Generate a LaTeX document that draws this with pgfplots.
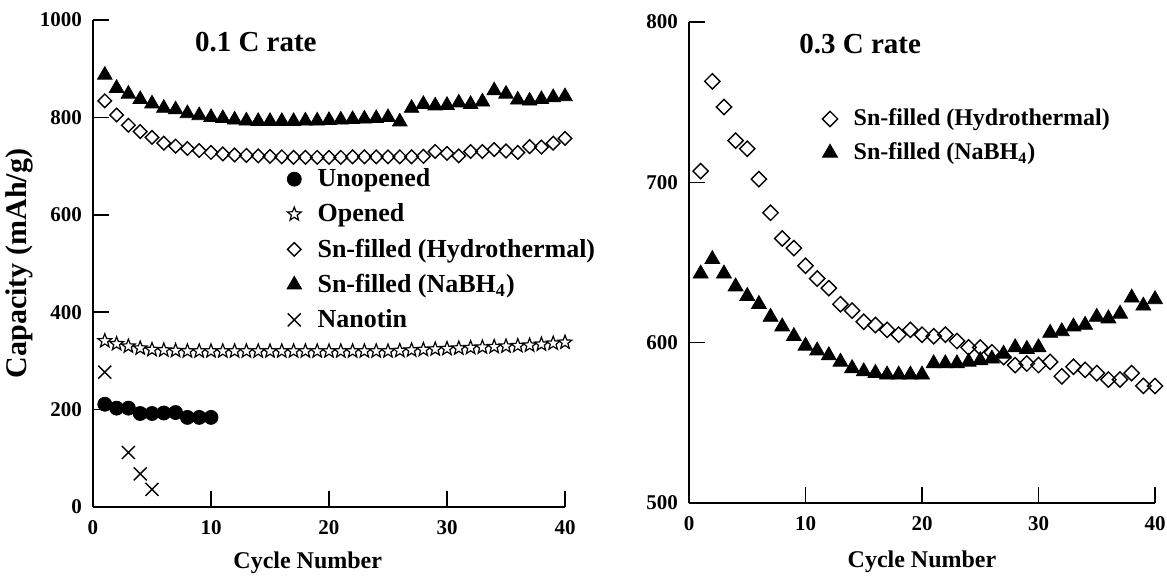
\documentclass[border=0pt]{standalone}
\usepackage{fontspec}
\setmainfont{Liberation Serif}
\usepackage{pgfplots}
\pgfplotsset{compat=1.18}

% outlined five-point star
\pgfdeclareplotmark{ostar}{%
  \pgfpathmoveto{\pgfqpointpolar{90}{\pgfplotmarksize}}%
  \pgfpathlineto{\pgfqpointpolar{126}{0.42\pgfplotmarksize}}%
  \pgfpathlineto{\pgfqpointpolar{162}{\pgfplotmarksize}}%
  \pgfpathlineto{\pgfqpointpolar{198}{0.42\pgfplotmarksize}}%
  \pgfpathlineto{\pgfqpointpolar{234}{\pgfplotmarksize}}%
  \pgfpathlineto{\pgfqpointpolar{270}{0.42\pgfplotmarksize}}%
  \pgfpathlineto{\pgfqpointpolar{306}{\pgfplotmarksize}}%
  \pgfpathlineto{\pgfqpointpolar{342}{0.42\pgfplotmarksize}}%
  \pgfpathlineto{\pgfqpointpolar{18}{\pgfplotmarksize}}%
  \pgfpathlineto{\pgfqpointpolar{54}{0.42\pgfplotmarksize}}%
  \pgfpathclose
  \pgfusepathqfillstroke
}

\pgfplotsset{
  cyc/.style={
    scale only axis,
    axis lines=left,
    axis line style={-, line width=1pt},
    tick align=inside,
    major tick length=8pt,
    tick style={line width=0.8pt, black},
    xmin=0, xmax=40, xtick={0,10,...,40},
    clip=false,
    ticklabel style={font=\bfseries\fontsize{10.5}{12}\selectfont},
    xticklabel style={yshift=-3pt},
    yticklabel style={xshift=-2pt},
    /pgf/number format/assume math mode=true,
    /pgf/number format/1000 sep={},
    xlabel={Cycle Number},
    xlabel style={font=\bfseries\fontsize{12}{14}\selectfont, anchor=center},
    legend style={draw=none, fill=none, anchor=north west, row sep=3pt,
      column sep=6pt, cells={anchor=west}},
  },
  unop/.style={only marks, mark=*, mark size=3.5pt, black},
  open/.style={only marks, mark=ostar, mark size=3.6pt, black, mark options={fill=white, line width=0.6pt}},
  hydro/.style={only marks, mark=square, mark size=2.4pt, black, mark options={rotate=45, fill=white, line width=0.7pt}},
  nabh/.style={only marks, mark=triangle*, mark size=4.2pt, black},
  nano/.style={only marks, mark=x, mark size=4.6pt, black, mark options={line width=0.7pt}},
}

\begin{document}
\begin{tikzpicture}
\useasboundingbox (0,0) rectangle (583.5pt,289.5pt);

% 0.1 C
\begin{axis}[cyc,
  at={(46.5pt,36pt)}, anchor=south west,
  width=236pt, height=243.5pt,
  ymin=0, ymax=1000, ytick={0,200,...,1000},
  ylabel={Capacity (mAh/g)},
  ylabel style={font=\bfseries\fontsize{15}{17}\selectfont, at={(axis description cs:-0.155,0.5)}, anchor=center},
  xlabel style={at={(axis description cs:0.455,-0.115)}},
  legend style={at={(axis cs:15.9,712)}, font=\bfseries\fontsize{13}{15}\selectfont},
]
\addplot[unop] coordinates {(1,211) (2,203) (3,203) (4,192) (5,192) (6,193) (7,194) (8,184) (9,184) (10,184)};
\addplot[open] coordinates {(1,341) (2,335) (3,330) (4,326) (5,323) (6,322) (7,321) (8,320) (9,320) (10,320)
 (11,320) (12,320) (13,320) (14,320) (15,320) (16,320) (17,320) (18,320) (19,320) (20,320)
 (21,320) (22,320) (23,320) (24,320) (25,320) (26,321) (27,322) (28,323) (29,324) (30,325)
 (31,326) (32,327) (33,328) (34,329) (35,330) (36,331) (37,332) (38,334) (39,336) (40,338)};
\addplot[hydro] coordinates {(1,834) (2,805) (3,784) (4,771) (5,759) (6,747) (7,741) (8,736) (9,732) (10,728)
 (11,725) (12,723) (13,722) (14,721) (15,720) (16,719) (17,718) (18,718) (19,718) (20,718)
 (21,718) (22,719) (23,719) (24,719) (25,719) (26,719) (27,719) (28,720) (29,730) (30,726)
 (31,721) (32,730) (33,730) (34,734) (35,731) (36,728) (37,740) (38,739) (39,747) (40,757)};
\addplot[nabh] coordinates {(1,887) (2,860) (3,848) (4,837) (5,828) (6,819) (7,816) (8,808) (9,804) (10,800)
 (11,798) (12,795) (13,793) (14,792) (15,792) (16,792) (17,792) (18,793) (19,793) (20,794)
 (21,795) (22,796) (23,797) (24,798) (25,800) (26,791) (27,819) (28,827) (29,824) (30,825)
 (31,830) (32,827) (33,832) (34,855) (35,848) (36,836) (37,834) (38,837) (39,841) (40,843)};
\addplot[nano] coordinates {(1,277) (3,112) (4,68) (5,36)};
\legend{Unopened, Opened, Sn-filled (Hydrothermal), Sn-filled (NaBH\textsubscript{4}), Nanotin}
\node[font=\bfseries\fontsize{14.5}{16}\selectfont] at (axis cs:13.8,954) {0.1 C rate};
\end{axis}

% 0.3 C
\begin{axis}[cyc,
  at={(344.5pt,38pt)}, anchor=south west,
  width=233pt, height=240.5pt,
  ymin=500, ymax=800, ytick={500,600,700,800},
  xlabel style={at={(axis description cs:0.5,-0.123)}},
  legend style={at={(axis cs:10.9,751)}, font=\bfseries\fontsize{12}{14}\selectfont},
]
\addplot[hydro, mark size=2.7pt] coordinates {(1,707) (2,763) (3,747) (4,726) (5,721) (6,702) (7,681) (8,665) (9,659) (10,648)
 (11,640) (12,634) (13,624) (14,620) (15,613) (16,611) (17,608) (18,605) (19,608) (20,605)
 (21,604) (22,605) (23,601) (24,597) (25,597) (26,594) (27,591) (28,586) (29,587) (30,586)
 (31,588) (32,579) (33,585) (34,583) (35,581) (36,577) (37,577) (38,581) (39,573) (40,573)};
\addplot[nabh, mark size=4.3pt] coordinates {(1,643) (2,652) (3,643) (4,635) (5,629) (6,624) (7,616) (8,610) (9,604) (10,598)
 (11,595) (12,592) (13,588) (14,584) (15,582) (16,581) (17,580) (18,580) (19,580) (20,580)
 (21,587) (22,587) (23,587) (24,588) (25,589) (26,590) (27,593) (28,597) (29,596) (30,597)
 (31,606) (32,607) (33,610) (34,611) (35,616) (36,615) (37,618) (38,628) (39,623) (40,627)};
\legend{Sn-filled (Hydrothermal), Sn-filled (NaBH\textsubscript{4})}
\node[font=\bfseries\fontsize{14.5}{16}\selectfont] at (axis cs:14.7,786) {0.3 C rate};
\end{axis}
\end{tikzpicture}
\end{document}
